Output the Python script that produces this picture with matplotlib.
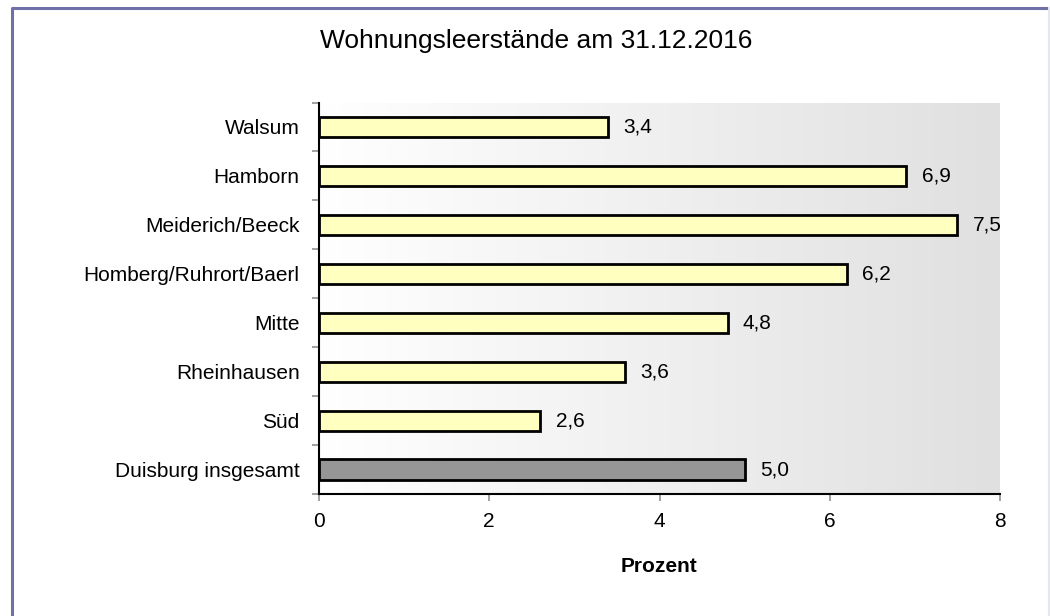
import numpy as np
import matplotlib
matplotlib.use('Agg')
import matplotlib.pyplot as plt
from matplotlib.colors import LinearSegmentedColormap
from matplotlib.lines import Line2D

plt.rcParams['font.family'] = ['Liberation Sans', 'DejaVu Sans']

# data
districts = ['Walsum', 'Hamborn', 'Meiderich/Beeck', 'Homberg/Ruhrort/Baerl',
             'Mitte', 'Rheinhausen', 'Süd', 'Duisburg insgesamt']
vacancy = [3.4, 6.9, 7.5, 6.2, 4.8, 3.6, 2.6, 5.0]
bar_colors = ['#ffffc0'] * 7 + ['#969696']
xticks = [0, 2, 4, 6, 8]

W, H = 1050, 616
fig = plt.figure(figsize=(W / 100, H / 100), dpi=100)
ax = fig.add_axes([319 / W, 1 - 494 / H, (1000 - 319) / W, (494 - 102.5) / H])

# frame around the chart (left/top strong, right edge faint)
x0, x1, ytop = 11.5 / W, 1049 / W, 1 - 7.5 / H
fig.lines.append(Line2D([x0, x0, x1], [0, ytop, ytop], transform=fig.transFigure,
                        color='#7070a8', linewidth=2.2))
fig.lines.append(Line2D([x1, x1], [0, ytop], transform=fig.transFigure,
                        color='#e6e6ee', linewidth=1.5))

# gradient plot area
grad = np.linspace(0, 1, 256).reshape(1, -1)
cmap = LinearSegmentedColormap.from_list('bg', ['#ffffff', '#e0e0e0'])
ax.imshow(grad, extent=[0, 8, len(districts) - 0.5, -0.5], aspect='auto',
          cmap=cmap, zorder=0)

pos = np.arange(len(districts))
ax.barh(pos, vacancy, height=0.41, color=bar_colors, edgecolor='black',
        linewidth=2, zorder=2)

for p, v in zip(pos, vacancy):
    ax.annotate(f'{v:.1f}'.replace('.', ','), (v, p), xytext=(11, 0),
                textcoords='offset points', va='center', ha='left', fontsize=15)

ax.set_xlim(0, 8)
ax.set_ylim(len(districts) - 0.5, -0.5)
ax.set_xticks(xticks)
ax.set_xticklabels([str(t) for t in xticks], fontsize=15)
ax.set_yticks(pos)
ax.set_yticklabels(districts, fontsize=15)
ax.set_yticks(np.arange(len(districts) + 1) - 0.5, minor=True)
ax.tick_params(axis='y', which='major', length=0, pad=14)
ax.tick_params(axis='y', which='minor', length=5, width=1.2, color='#909090')
ax.tick_params(axis='x', length=5, width=1.2, color='#909090', pad=8)

for s in ['top', 'right']:
    ax.spines[s].set_visible(False)
for s in ['left', 'bottom']:
    ax.spines[s].set_linewidth(1.5)
    ax.spines[s].set_zorder(3)

ax.set_xlabel('Prozent', fontsize=15, fontweight='bold')
ax.xaxis.set_label_coords(0.5, (494 - 566) / (494 - 102.5))
ax.xaxis.label.set_va('center')

fig.text(536 / W, 1 - 48 / H, 'Wohnungsleerstände am 31.12.2016',
         ha='center', va='baseline', fontsize=19)

fig.savefig('out.png', dpi=100, facecolor='white')
